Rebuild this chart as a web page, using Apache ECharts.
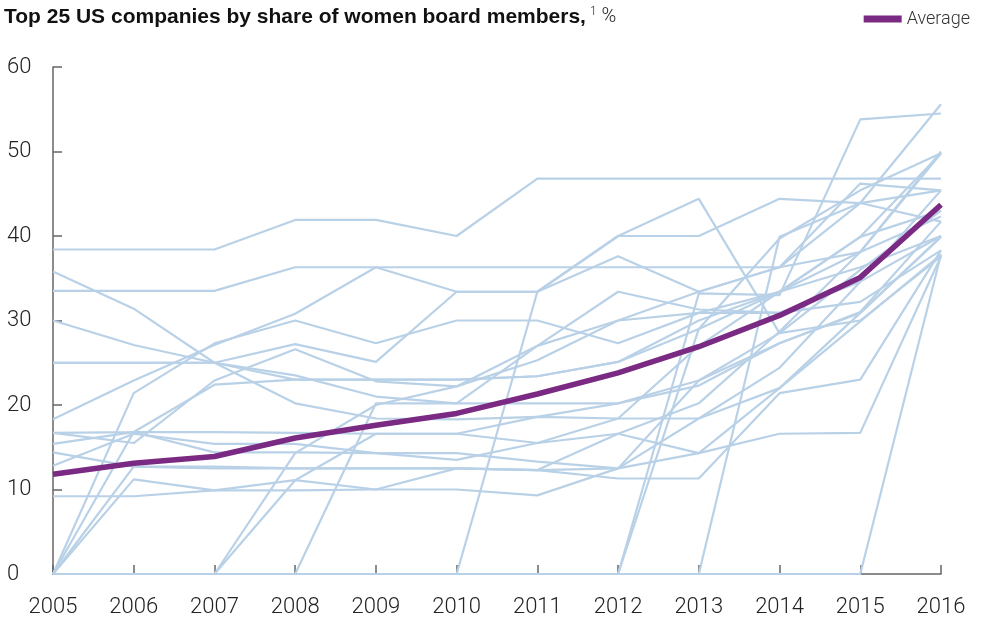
<!DOCTYPE html>
<html>
<head>
<meta charset="utf-8">
<script src="https://cdn.jsdelivr.net/npm/echarts@6/dist/echarts.min.js"></script>
<style>
  html, body { margin: 0; padding: 0; background: #fff; }
  #main { width: 989px; height: 623px; }
</style>
</head>
<body>
<div id="main"></div>
<script>
let years = ['2005','2006','2007','2008','2009','2010','2011','2012','2013','2014','2015','2016'];

// share of women board members, % (one array per company)
let c01 = [38.4,38.4,38.4,41.9,41.9,40.0,46.8,46.8,46.8,46.8,46.8,46.8];
let c02 = [35.8,31.4,25.0,20.2,18.4,18.3,18.6,18.4,18.4,22.0,29.9,37.8];
let c03 = [33.5,33.5,33.5,36.3,36.3,36.3,36.3,36.3,36.3,36.3,38.1,49.8];
let c04 = [30.0,27.1,25.0,23.5,21.0,20.2,20.2,20.2,22.9,27.3,30.9,39.9];
let c05 = [25.0,25.0,25.0,23.0,23.0,23.0,23.4,25.1,29.0,33.4,39.9,43.0];
let c06 = [18.3,22.9,27.1,30.8,36.3,33.4,33.4,40.0,40.0,44.4,43.9,41.7];
let c07 = [16.7,15.5,22.9,26.6,22.8,22.2,27.0,30.0,30.9,30.9,32.2,38.3];
let c08 = [15.4,16.8,16.8,16.7,16.6,16.6,15.5,16.6,14.3,16.6,16.7,37.6];
let c09 = [14.4,12.7,12.5,12.5,12.5,12.5,12.3,11.3,11.3,21.4,23.0,38.3];
let c10 = [12.8,16.6,15.4,15.4,14.3,14.3,13.3,12.5,18.4,24.4,34.6,45.4];
let c11 = [9.2,9.2,9.9,9.9,10.0,10.0,9.3,12.5,22.9,28.5,30.0,37.6];
let c12 = [0,11.2,9.9,11.1,10.0,12.5,12.3,16.6,20.2,28.7,38.1,50.0];
let c13 = [0,16.8,14.4,14.4,14.3,13.5,15.5,18.4,27.0,33.4,36.3,40.0];
let c14 = [0,21.4,27.3,30.0,27.3,30.0,30.0,27.3,30.9,33.4,39.9,49.8];
let c15 = [0,0,0,14.3,20.0,22.2,25.3,30.0,33.4,36.3,46.2,45.4];
let c16 = [0,0,0,11.1,16.6,16.6,18.6,20.2,22.3,27.3,31.0,41.7];
let c17 = [0,0,0,0,20.2,20.2,27.0,33.4,31.3,30.9,34.6,40.0];
let c18 = [0,0,0,0,0,0,33.4,40.0,44.4,28.5,36.0,43.0];
let c19 = [0,0,0,0,0,0,0,0,33.2,33.0,53.8,54.5];
let c20 = [0,0,0,0,0,0,0,0,29.0,39.7,45.4,49.8];
let c21 = [0,0,0,0,0,0,0,0,0,39.9,43.9,55.6];
let c22 = [0,0,0,0,0,0,0,0,0,0,0,37.8];
let c23 = [25.0,25.0,25.0,27.2,25.1,33.4,33.4,37.6,33.4,36.3,43.9,45.4];
let c24 = [16.7,16.8,22.4,23.0,23.0,23.0,23.4,25.1,30.0,33.4,38.1,42.3];
let c25 = [0,12.7,12.7,12.5,12.5,12.5,12.3,12.5,14.3,22.0,30.9,39.9];

let average = [11.8,13.1,13.9,16.1,17.6,19.0,21.3,23.8,26.9,30.6,35.1,43.7];

let companies = [c01,c02,c03,c04,c05,c06,c07,c08,c09,c10,c11,c12,c13,
                 c14,c15,c16,c17,c18,c19,c20,c21,c22,c23,c24,c25];
let yTicks = [0,10,20,30,40,50,60];

let myChart = echarts.init(document.getElementById('main'));
let font = "'Liberation Sans', Arial, sans-serif";
let thin = "Roboto, 'Liberation Sans', sans-serif";

myChart.setOption({
    animation:false,
    textStyle:{fontFamily:font},
    title:{
        left:-1,
        top:1,
        text:'{b|Top 25 US companies by share of women board members,}{s|1}{n| %}',
        textStyle:{
            rich:{
                b:{fontSize:21,fontWeight:'bold',color:'#111',fontFamily:font},
                s:{fontSize:12,color:'#222',fontFamily:thin,fontWeight:300,padding:[0,0,10,4]},
                n:{fontSize:20,color:'#222',fontFamily:thin,fontWeight:300}
            }
        }
    },
    legend:{
        data:['Average'],
        right:14,
        top:5,
        icon:'rect',
        itemWidth:38,
        itemHeight:7,
        itemGap:9,
        textStyle:{fontSize:18,color:'#333',fontFamily:thin,fontWeight:300}
    },
    grid:{left:53,right:48,top:67,bottom:49},
    xAxis:{
        type:'category',
        data:years,
        boundaryGap:false,
        axisLine:{lineStyle:{color:'#666',width:1.5}},
        axisTick:{inside:true,length:9,lineStyle:{color:'#666',width:1.5}},
        axisLabel:{fontSize:22,color:'#222',margin:22,fontFamily:thin,fontWeight:300}
    },
    yAxis:{
        type:'value',
        min:0,
        max:60,
        interval:10,
        axisLine:{show:true,lineStyle:{color:'#666',width:1.5}},
        axisTick:{show:true,inside:true,length:9,lineStyle:{color:'#666',width:1.5}},
        splitLine:{show:false},
        axisLabel:{fontSize:22,color:'#222',align:'left',margin:46,fontFamily:thin,fontWeight:300,
            formatter:function(v){return yTicks.indexOf(v)>=0 ? String(v) : '';}}
    },
    series:(function(){
        let series = [];
        companies.forEach((arr,i) => {
            series.push({
                name:'company'+(i+1),
                type:'line',
                data:arr,
                symbol:'none',
                silent:true,
                z:2,
                lineStyle:{color:'#b9d1e7',width:2.2},
                itemStyle:{color:'#b9d1e7'}
            });
        });
        series.push({
            name:'Average',
            type:'line',
            data:average,
            symbol:'none',
            z:5,
            lineStyle:{color:'#7b2a83',width:5.5},
            itemStyle:{color:'#7b2a83'}
        });
        return series;
    })()
});
</script>
</body>
</html>
